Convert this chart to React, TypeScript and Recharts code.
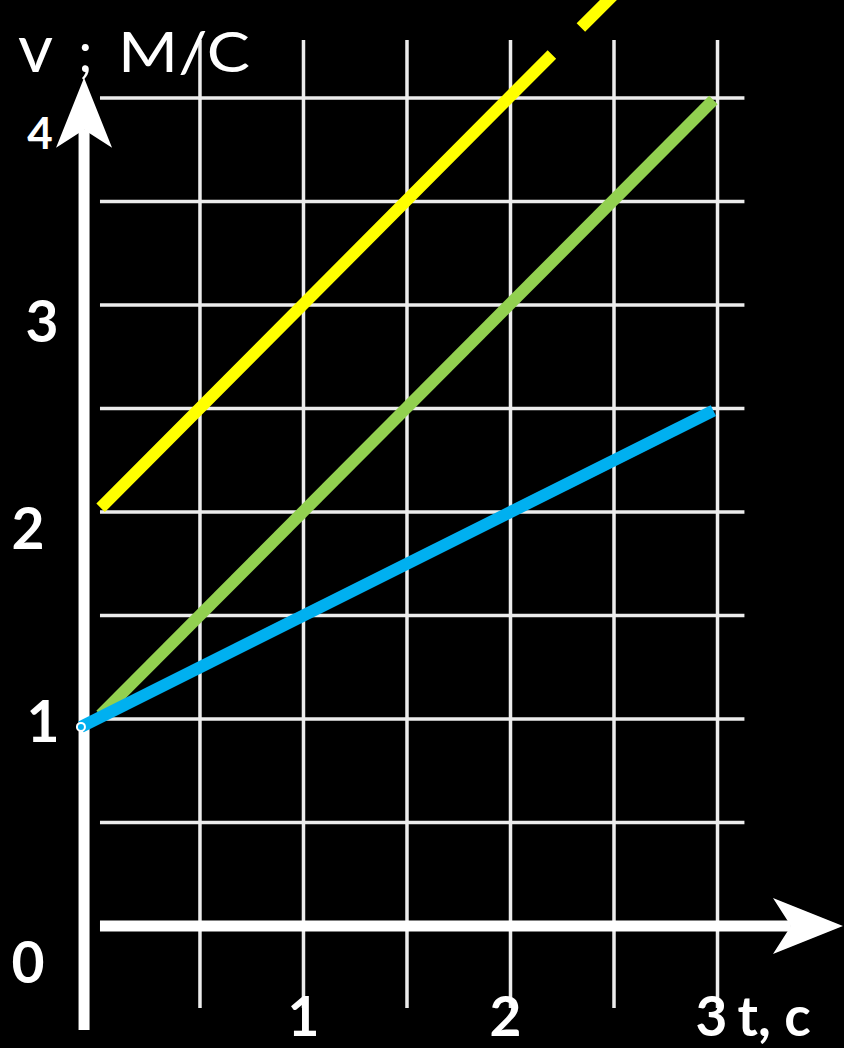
import React from 'react'
import { LineChart, Line, XAxis, YAxis, ReferenceLine, ReferenceDot } from 'recharts'

// speed vs time
const blueLine = [
  { t: -0.075, v: 0.962 },
  { t: 2.98, v: 2.49 },
]
const greenLine = [
  { t: 0.02, v: 1.02 },
  { t: 2.98, v: 3.99 },
]
// the yellow one has a small break near the top
const yellowLine = [
  { t: 0.02, v: 2.02 },
  { t: 2.2, v: 4.21 },
  { t: 2.27, v: null },
  { t: 2.34, v: 4.34 },
  { t: 2.62, v: 4.62 },
]

const gridT = [0.5, 1, 1.5, 2, 2.5, 3]
const gridV = [0.5, 1, 1.5, 2, 2.5, 3, 3.5, 4]
const xTicks = [1, 2, 3]
const yTicks = [0, 1, 2, 3, 4]
const xName = 't, c'
const yName = ['v', ';', 'M/C']

const W = 844
const H = 1048
const X_DOMAIN = [-0.466, 3.611]
const Y_DOMAIN = [-0.589, 4.473]
const GRID_T = [0.017, 3.13]
const GRID_V = [-0.396, 4.28]
const AXIS_T = -0.06

const FONT = 'Lato, "Open Sans", sans-serif'
// hand nudges for the y labels (dx, dy, size)
const yLabelNudge = [
  [-56, 35, 57],
  [-41, 1, 57],
  [-56, 15, 57],
  [-42, 15, 57],
  [-44, 34, 44],
]

function Arrow(p: any) {
  const { x1, y1, x2, y2 } = p
  const dx = x2 - x1
  const dy = y2 - y1
  const len = Math.hypot(dx, dy)
  const ux = dx / len
  const uy = dy / len
  const nx = -uy
  const ny = ux
  const headLen = 70
  const half = 28
  const notch = 18
  const bx = x2 - ux * headLen
  const by = y2 - uy * headLen
  const mx = x2 - ux * (headLen - notch)
  const my = y2 - uy * (headLen - notch)
  const pts = [
    [x2, y2],
    [bx + nx * half, by + ny * half],
    [mx, my],
    [bx - nx * half, by - ny * half],
  ]
  return (
    <g>
      <line x1={x1} y1={y1} x2={mx} y2={my} stroke="#fff" strokeWidth={11} />
      <polygon points={pts.map((q) => q.join(',')).join(' ')} fill="#fff" />
    </g>
  )
}

function GridLine(p: any) {
  return <line x1={p.x1} y1={p.y1} x2={p.x2} y2={p.y2} stroke="#ececec" strokeWidth={3.5} />
}

export default function App() {
  return (
    <div style={{ position: 'absolute', left: 0, top: 0, width: W, height: H, background: '#000' }}>
      <LineChart width={W} height={H} margin={{ top: 0, right: 0, bottom: 0, left: 0 }}>
        <XAxis type="number" dataKey="t" domain={X_DOMAIN} allowDataOverflow hide />
        <YAxis type="number" dataKey="v" domain={Y_DOMAIN} allowDataOverflow hide />

        {gridV.map((v) => (
          <ReferenceLine
            key={`h${v}`}
            segment={[{ x: GRID_T[0], y: v }, { x: GRID_T[1], y: v }]}
            shape={GridLine}
          />
        ))}
        {gridT.map((t) => (
          <ReferenceLine
            key={`v${t}`}
            segment={[{ x: t, y: GRID_V[0] }, { x: t, y: GRID_V[1] }]}
            shape={GridLine}
          />
        ))}

        {/* axes */}
        <ReferenceLine segment={[{ x: GRID_T[0], y: 0 }, { x: 3.606, y: 0 }]} shape={Arrow} />
        <ReferenceLine segment={[{ x: AXIS_T, y: -0.502 }, { x: AXIS_T, y: 4.097 }]} shape={Arrow} />

        {xTicks.map((t, i) => (
          <ReferenceDot
            key={`xt${t}`}
            x={t}
            y={0}
            r={0}
            shape={(p: any) => (
              <g>
                <text
                  x={p.cx - (i === 2 ? 6 : i === 1 ? 5 : 0)}
                  y={p.cy + 110}
                  textAnchor="middle"
                  fill="#fff"
                  fontFamily={FONT}
                  fontWeight={700}
                  fontSize={55}
                >
                  {t}
                </text>
                {i === xTicks.length - 1 && (
                  <text x={p.cx + 20} y={p.cy + 110} fill="#fff" fontFamily={FONT} fontWeight={700} fontSize={55}>
                    {xName}
                  </text>
                )}
              </g>
            )}
          />
        ))}

        {yTicks.map((v, i) => (
          <ReferenceDot
            key={`yt${v}`}
            x={AXIS_T}
            y={v}
            r={0}
            shape={(p: any) => (
              <text
                x={p.cx + yLabelNudge[i][0]}
                y={p.cy + yLabelNudge[i][1]}
                textAnchor="middle"
                dominantBaseline="central"
                fill="#fff"
                fontFamily={FONT}
                fontWeight={700}
                fontSize={yLabelNudge[i][2]}
              >
                {v}
              </text>
            )}
          />
        ))}

        {/* axis name at the top of the v axis */}
        <ReferenceDot
          x={AXIS_T}
          y={4.097}
          r={0}
          shape={(p: any) => (
            <text fill="#fff" fontFamily={FONT} fontSize={56}>
              <tspan x={p.cx - 66} y={p.cy - 6} fontSize={68}>{yName[0]}</tspan>
              <tspan x={p.cx - 6} y={p.cy - 6}>{yName[1]}</tspan>
              <tspan x={p.cx + 34} y={p.cy - 6} textLength={132} lengthAdjust="spacingAndGlyphs">
                {yName[2]}
              </tspan>
            </text>
          )}
        />

        <Line data={yellowLine} dataKey="v" stroke="#ffff00" strokeWidth={12} dot={false} isAnimationActive={false} />
        <Line data={greenLine} dataKey="v" stroke="#92d050" strokeWidth={12} dot={false} isAnimationActive={false} />
        <Line data={blueLine} dataKey="v" stroke="#00b0f0" strokeWidth={12} dot={false} isAnimationActive={false} />
      </LineChart>
    </div>
  )
}
